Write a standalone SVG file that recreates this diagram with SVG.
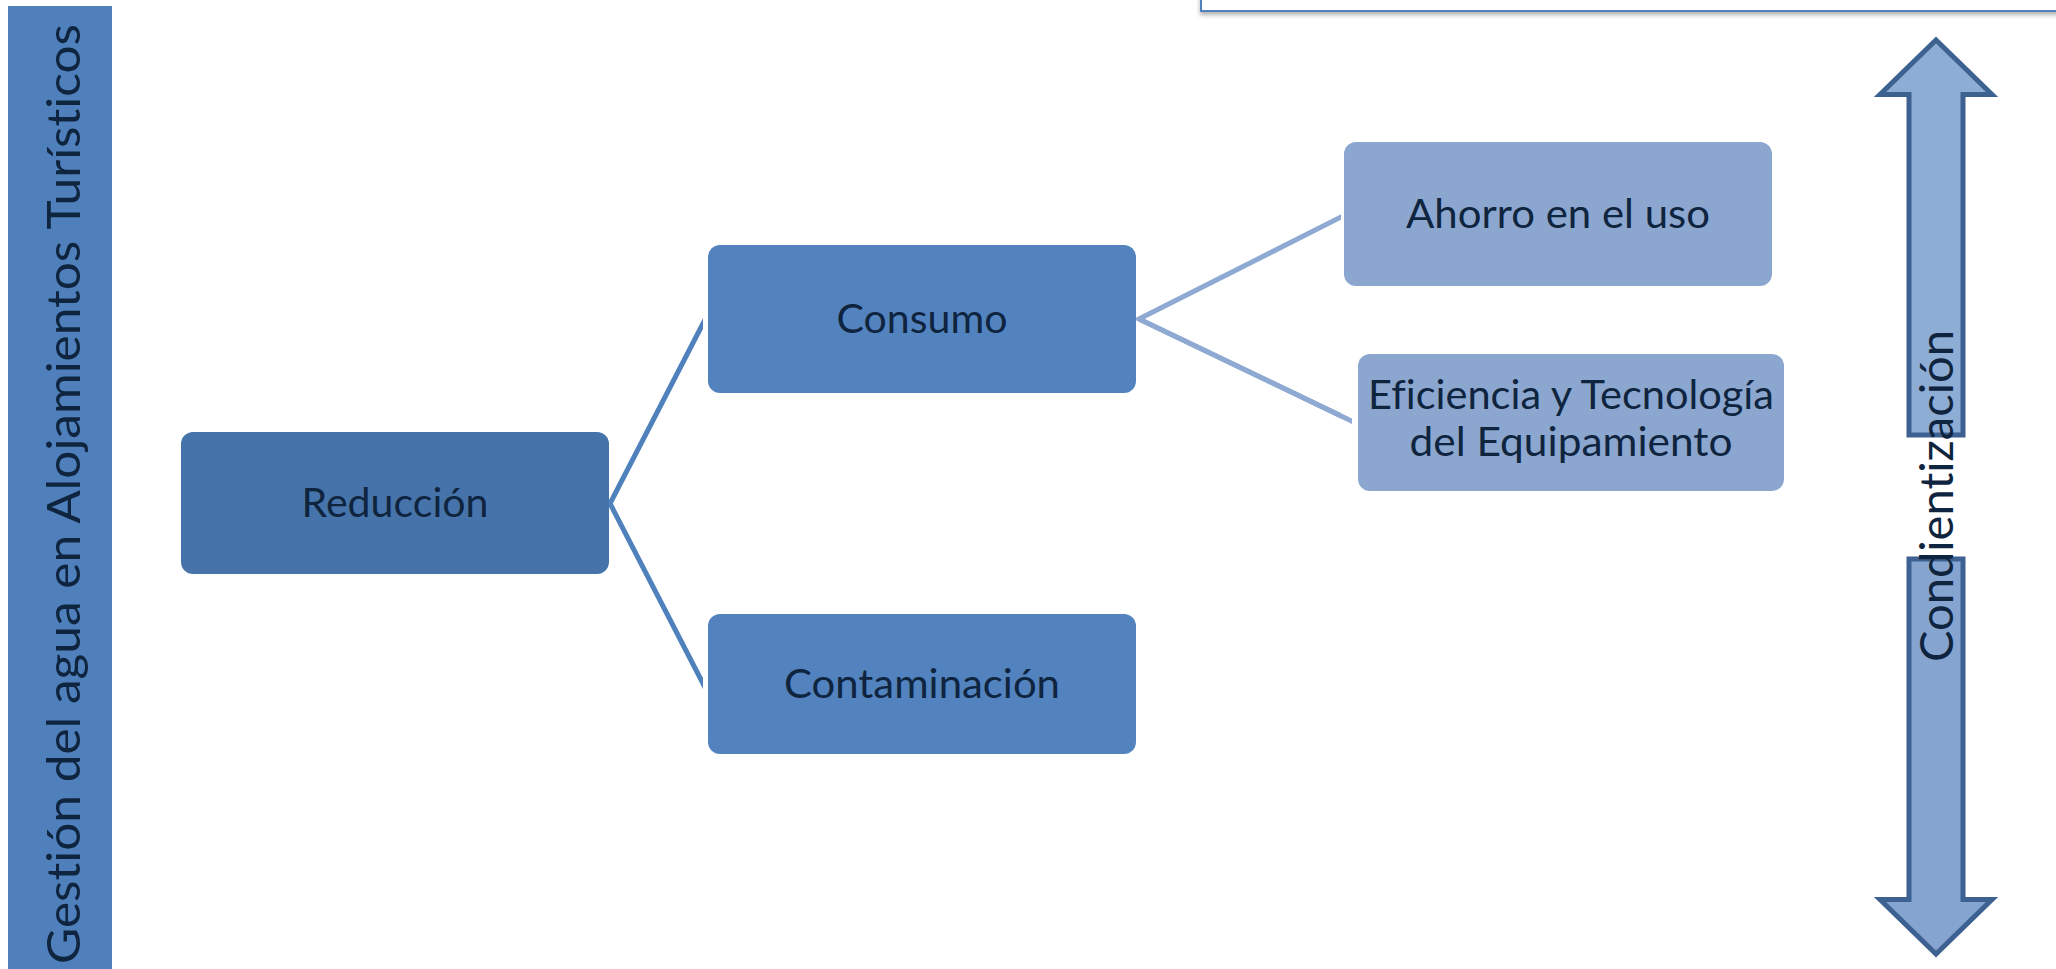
<svg xmlns="http://www.w3.org/2000/svg" width="2056" height="969" viewBox="0 0 2056 969">
<defs>
<style>
.lbl{font-family:Lato,"Liberation Sans",sans-serif;font-size:40px;fill:#0f243e;text-anchor:middle;font-variant-ligatures:none}
.vt{font-family:Lato,"Liberation Sans",sans-serif;font-size:47px;fill:#0f243e;text-anchor:middle;font-variant-ligatures:none}
.l1{fill:none;stroke:#4f81bd;stroke-width:5;stroke-linejoin:miter}
.l2{fill:none;stroke:#8eaad2;stroke-width:5;stroke-linejoin:miter}
.arr{stroke:#3d6190;stroke-width:5;stroke-linejoin:miter}
.b0{fill:#4674aa}
.b1{fill:#5283be}
.b2{fill:#8ca7cf}
</style>
<filter id="sh" x="-10%" y="-50%" width="120%" height="300%"><feDropShadow dx="0" dy="3" stdDeviation="2" flood-color="#000" flood-opacity="0.3"/></filter>
<clipPath id="c1"><rect x="590" y="300" width="113" height="400"/></clipPath>
<clipPath id="c2"><rect x="1120" y="150" width="221" height="300"/></clipPath>
<clipPath id="c3"><rect x="1120" y="150" width="232" height="300"/></clipPath>
</defs>
<rect width="2056" height="969" fill="#fff"/>
<g id="topbox">
<rect x="1201" y="-10" width="900" height="21" fill="#fff" stroke="#4f81bd" stroke-width="2" filter="url(#sh)"/>
</g>
<g id="connectors">
<line x1="112" y1="505.5" x2="177" y2="505.5" class="l1" filter="url(#sh)"/>
<polyline points="710,310 610,503.5 710,697" class="l1" clip-path="url(#c1)"/>
<polyline points="1350,212.5 1139,319 1360,425" class="l2" clip-path="url(#c2)"/>
<line x1="1139" y1="319" x2="1360" y2="425" class="l2" clip-path="url(#c3)"/>
</g>
<g id="gestion">
<rect x="8" y="6" width="104" height="970" fill="#4f80bc"/>
<text class="vt" transform="translate(80,494) rotate(-90)" textLength="940" lengthAdjust="spacingAndGlyphs">Gestión del agua en Alojamientos Turísticos</text>
</g>
<g id="reduccion">
<rect x="181" y="432" width="428" height="142" rx="12" class="b0"/>
<text class="lbl" x="395" y="517" textLength="187" lengthAdjust="spacingAndGlyphs">Reducción</text>
</g>
<g id="consumo">
<rect x="708" y="245" width="428" height="148" rx="12" class="b1"/>
<text class="lbl" x="922" y="333" textLength="171" lengthAdjust="spacingAndGlyphs">Consumo</text>
</g>
<g id="contaminacion">
<rect x="708" y="614" width="428" height="140" rx="12" class="b1"/>
<text class="lbl" x="922" y="698" textLength="276" lengthAdjust="spacingAndGlyphs">Contaminación</text>
</g>
<g id="ahorro">
<rect x="1344" y="142" width="428" height="144" rx="12" class="b2"/>
<text class="lbl" x="1558" y="228" textLength="304" lengthAdjust="spacingAndGlyphs">Ahorro en el uso</text>
</g>
<g id="eficiencia">
<rect x="1358" y="354" width="426" height="137" rx="12" class="b2"/>
<text class="lbl" x="1571" y="409" textLength="406" lengthAdjust="spacingAndGlyphs">Eficiencia y Tecnología</text>
<text class="lbl" x="1571" y="456" textLength="323" lengthAdjust="spacingAndGlyphs">del Equipamiento</text>
</g>
<g id="concientizacion">
<polygon class="arr" fill="#8eadd5" points="1936,40 1992,94.5 1963,94.5 1963,435 1909,435 1909,94.5 1880,94.5"/>
<polygon class="arr" fill="#85a5d0" points="1909,559 1963,559 1963,899.5 1992,899.5 1936,954 1880,899.5 1909,899.5"/>
<text class="vt" transform="translate(1953,496) rotate(-90)" textLength="332" lengthAdjust="spacingAndGlyphs">Condientización</text>
</g>
</svg>
